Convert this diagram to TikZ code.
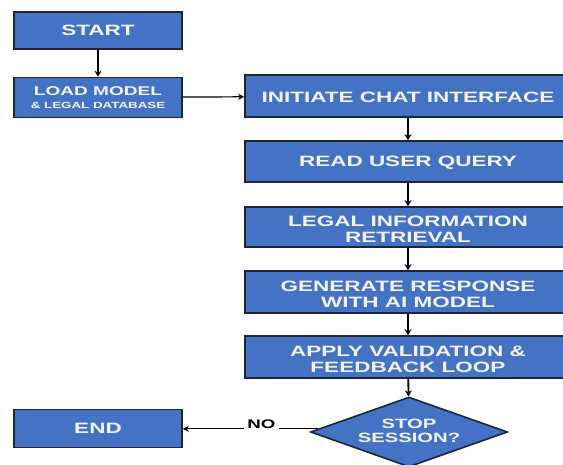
\documentclass[tikz,border=0pt]{standalone}
\usepackage{fontspec}
\newfontfamily\boxfont{Liberation Sans}[FakeStretch=1.5]
\usetikzlibrary{shapes.geometric,arrows.meta}
\definecolor{boxblue}{HTML}{4472C4}
\definecolor{boxedge}{HTML}{1E2636}
\definecolor{boxtext}{HTML}{F2F4F8}
\newcommand{\upstrut}{\rule{0pt}{14.8pt}}
\tikzset{
  flowbox/.style={rectangle, draw=boxedge, line width=1.6pt, fill=boxblue,
    text=boxtext, font=\boxfont\bfseries\fontsize{15}{15.5}\selectfont,
    align=center, inner sep=0pt},
  decision/.style={diamond, draw=boxedge, line width=1.6pt, fill=boxblue,
    inner sep=0pt, minimum width=197pt, minimum height=70pt},
  flowarrow/.style={draw=black, line width=1.8pt, -{Stealth[length=6pt,width=7pt]}},
  thinarrow/.style={draw=black, line width=1.2pt, -{Stealth[length=6pt,width=6pt]}}
}
\begin{document}
\begin{tikzpicture}[x=1pt,y=-1pt]
\useasboundingbox (0,0) rectangle (563,464);
\clip (0,0) rectangle (563,464);
\fill[white] (0,0) rectangle (563,464);

\node[flowbox, minimum width=168pt, minimum height=37pt] (start) at (98,30.5) {START};
\node[flowbox, minimum width=168pt, minimum height=40pt, yshift=-0.5pt] (load) at (98,97)
  {{\fontsize{12.7}{13}\selectfont LOAD MODEL}\\[-2pt]{\fontsize{8.9}{10}\selectfont \& LEGAL DATABASE}};
\node[flowbox, minimum width=326pt, minimum height=42pt] (init) at (408,96) {\rule{0pt}{12.8pt}INITIATE CHAT INTERFACE};
\node[flowbox, minimum width=326pt, minimum height=41pt] (read) at (408,161.5) {\rule{0pt}{12.8pt}READ USER QUERY};
\node[flowbox, minimum width=326pt, minimum height=40pt] (legal) at (408,227) {\upstrut LEGAL INFORMATION\\RETRIEVAL};
\node[flowbox, minimum width=326pt, minimum height=42pt] (gen) at (408,292) {\upstrut GENERATE RESPONSE\\WITH AI MODEL};
\node[flowbox, minimum width=326pt, minimum height=42pt] (apply) at (408,357) {\upstrut APPLY VALIDATION \&\\FEEDBACK LOOP};
\node[decision, label={[text=boxtext, font=\boxfont\bfseries\fontsize{13.5}{14}\selectfont, align=center, yshift=1.5pt]center:STOP\\SESSION?}] (stop) at (409,432) {};
\node[flowbox, minimum width=168pt, minimum height=38pt] (endbox) at (98,428.5) {END};

\draw[flowarrow] (start) -- (load);
\draw[thinarrow] (load) -- (init);
\draw[flowarrow] (init) -- (read);
\draw[flowarrow] (read) -- (legal);
\draw[flowarrow] (legal) -- (gen);
\draw[flowarrow] (gen) -- (apply);
\draw[flowarrow] (apply) -- (stop);
\draw[thinarrow] (stop.178) -- node[pos=0.42, fill=white, inner sep=3pt, yshift=5pt, text=black, font=\boxfont\bfseries\fontsize{12.5}{13}\selectfont] (nolabel) {NO} (stop.178 -| endbox.east);
\end{tikzpicture}
\end{document}
